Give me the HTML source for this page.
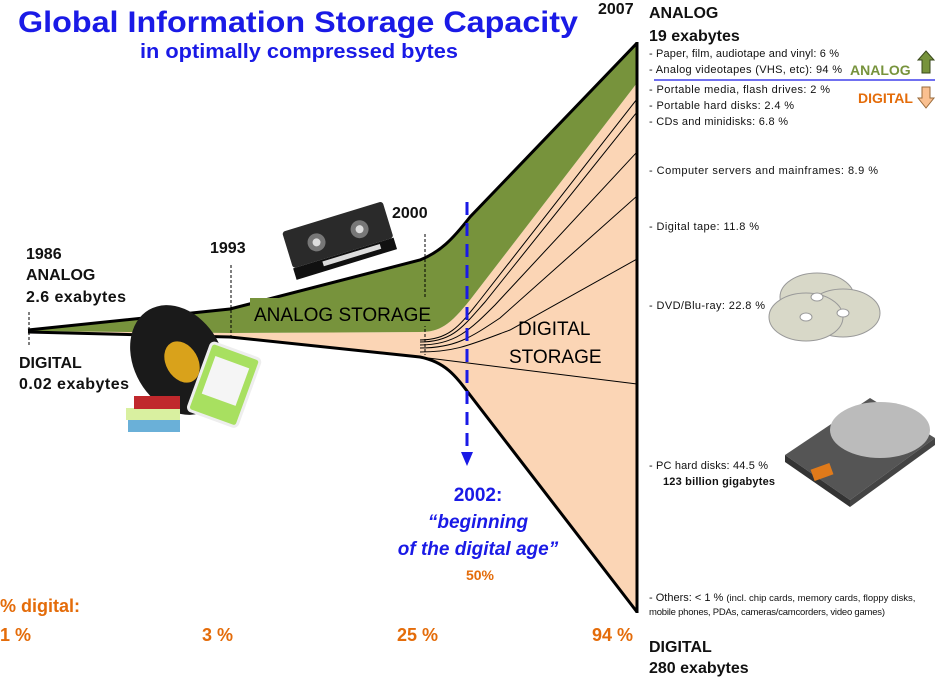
<!DOCTYPE html>
<html><head><meta charset="utf-8"><style>
html,body{margin:0;padding:0;background:#fff}
svg{display:block}
text{font-family:"Liberation Sans",sans-serif}
</style></head><body>
<svg width="941" height="679" viewBox="0 0 941 679" xmlns="http://www.w3.org/2000/svg">
<text x="18" y="32" font-size="30" font-weight="bold" fill="#1a1ae6" textLength="560" lengthAdjust="spacingAndGlyphs">Global Information Storage Capacity</text>
<text x="140" y="58" font-size="20" font-weight="bold" fill="#1a1ae6" textLength="318" lengthAdjust="spacingAndGlyphs">in optimally compressed bytes</text>

<path d="M28,331 L230,333 L420,332 C440,332 450,325 470,300 L637,83 L637,612 L470,395 C455,375 445,362 420,357 L230,337 Z" fill="#fbd5b5"/>
<path d="M28,330 L230,309 L420,260 C440,252 452,240 470,217 L637,43 L637,83 L470,300 C450,325 440,332 420,332 L230,333 L28,331 Z" fill="#77933c"/>
<g stroke="#000" stroke-width="1" fill="none">
<path d="M420,340 C450,340 460,325 480,300 L637,99"/>
<path d="M420,342 C452,342 462,328 485,302 L637,112"/>
<path d="M420,345 C455,345 470,330 495,305 L637,152"/>
<path d="M420,348 C455,348 470,338 500,318 L637,196"/>
<path d="M420,352 C455,352 470,345 510,330 L637,259"/>
<path d="M420,357 L637,384"/>
</g>
<path d="M28,330 L230,309 L420,260 C440,252 452,240 470,217 L637,43" stroke="#000" stroke-width="3" fill="none"/>
<path d="M28,332 L230,337 L420,357 C445,362 455,375 470,395 L637,612" stroke="#000" stroke-width="3" fill="none"/>
<line x1="637" y1="42" x2="637" y2="613" stroke="#000" stroke-width="3"/>

<g stroke="#000" stroke-width="1" stroke-dasharray="3,2">
<line x1="29" y1="312" x2="29" y2="345"/>
<line x1="231" y1="265" x2="231" y2="336"/>
<line x1="425" y1="234" x2="425" y2="355"/>
</g>
<line x1="467" y1="202" x2="467" y2="455" stroke="#1a1ae6" stroke-width="3" stroke-dasharray="13,8"/>
<polygon points="461,452 473,452 467,466" fill="#1a1ae6"/>

<g font-weight="bold" fill="#111">
<text x="26" y="259" font-size="16">1986</text>
<text x="26" y="280" font-size="16">ANALOG</text>
<text x="26" y="302" font-size="16" textLength="100">2.6 exabytes</text>
<text x="19" y="368" font-size="16">DIGITAL</text>
<text x="19" y="389" font-size="16" textLength="110">0.02 exabytes</text>
<text x="210" y="253" font-size="16">1993</text>
<text x="392" y="218" font-size="16">2000</text>
<text x="598" y="14" font-size="16">2007</text>
<text x="649" y="18" font-size="16">ANALOG</text>
<text x="649" y="41" font-size="16">19 exabytes</text>
<text x="649" y="652" font-size="16">DIGITAL</text>
<text x="649" y="673" font-size="16">280 exabytes</text>
</g>
<g fill="#000" font-size="19">
<rect x="250" y="298" width="186" height="28" fill="#77933c"/>
<text x="254" y="321">ANALOG STORAGE</text>
<text x="518" y="335">DIGITAL</text>
<text x="509" y="363">STORAGE</text>
</g>

<g font-size="11" fill="#111">
<text x="649" y="57" textLength="190">- Paper, film, audiotape and vinyl: 6 %</text>
<text x="649" y="73" textLength="193">- Analog videotapes (VHS, etc):  94 %</text>
<text x="649" y="93" textLength="181">- Portable media, flash drives: 2 %</text>
<text x="649" y="109" textLength="145">- Portable hard disks: 2.4 %</text>
<text x="649" y="125" textLength="139">- CDs and minidisks: 6.8 %</text>
<text x="649" y="174" textLength="229">- Computer  servers and mainframes: 8.9 %</text>
<text x="649" y="230" textLength="110">- Digital tape: 11.8 %</text>
<text x="649" y="309" textLength="116">- DVD/Blu-ray: 22.8 %</text>
<text x="649" y="469" textLength="119">- PC hard disks: 44.5 %</text>
<text x="663" y="485" font-weight="bold" textLength="112">123 billion  gigabytes</text>
<text x="649" y="601">- Others: &lt; 1 % <tspan font-size="9.5">(incl. chip cards, memory cards, floppy disks,</tspan></text>
<text x="649" y="615" font-size="9.5" textLength="236">mobile phones, PDAs, cameras/camcorders, video games)</text>
</g>
<line x1="654" y1="80" x2="935" y2="80" stroke="#1a1ae6" stroke-width="1.2"/>
<text x="850" y="75" font-size="14" font-weight="bold" fill="#77933c">ANALOG</text>
<text x="858" y="103" font-size="14" font-weight="bold" fill="#e46c0a">DIGITAL</text>
<polygon points="926,51 934,60 930,60 930,73 922,73 922,60 918,60" fill="#77933c" stroke="#3a4a1c"/>
<polygon points="922,87 930,87 930,98 934,98 926,108 918,98 922,98" fill="#fac090" stroke="#9a6a3a"/>

<g font-weight="bold" fill="#1a1ae6" font-size="19" text-anchor="middle">
<text x="478" y="501">2002:</text>
<text x="478" y="528" font-style="italic">“beginning</text>
<text x="478" y="555" font-style="italic">of the digital age”</text>
</g>
<text x="480" y="580" font-size="14" font-weight="bold" fill="#e46c0a" text-anchor="middle">50%</text>

<g font-weight="bold" fill="#e46c0a" font-size="18">
<text x="0" y="612">% digital:</text>
<text x="0" y="641">1 %</text>
<text x="202" y="641">3 %</text>
<text x="397" y="641">25 %</text>
<text x="592" y="641">94 %</text>
</g>

<g transform="translate(282,232) rotate(-17)">
<rect x="0" y="0" width="105" height="38" rx="3" fill="#2a2a2a"/>
<rect x="0" y="38" width="105" height="12" fill="#111"/>
<rect x="30" y="40" width="60" height="5" fill="#ddd"/>
<circle cx="30" cy="20" r="9" fill="#777"/><circle cx="30" cy="20" r="4" fill="#ddd"/>
<circle cx="75" cy="20" r="9" fill="#777"/><circle cx="75" cy="20" r="4" fill="#ddd"/>
</g>
<ellipse cx="178" cy="360" rx="44" ry="58" transform="rotate(-30 178 360)" fill="#1a1a1a"/>
<ellipse cx="182" cy="362" rx="16" ry="22" transform="rotate(-30 182 362)" fill="#d9a21b"/>
<g transform="translate(212,342) rotate(20)">
<rect x="0" y="0" width="52" height="72" rx="4" fill="#a8e060" stroke="#eee" stroke-width="3"/>
<rect x="8" y="12" width="36" height="40" fill="#f5f5f5"/>
</g>
<rect x="128" y="420" width="52" height="12" fill="#6ab0d8"/>
<rect x="126" y="408" width="54" height="12" fill="#d9f0a0"/>
<rect x="134" y="396" width="46" height="13" fill="#c0282c"/>
<g fill="#d8d8c8" stroke="#999">
<ellipse cx="817" cy="297" rx="37" ry="24"/>
<ellipse cx="843" cy="313" rx="37" ry="24"/>
<ellipse cx="806" cy="317" rx="37" ry="24"/>
</g>
<g fill="#fff" stroke="#999"><ellipse cx="817" cy="297" rx="6" ry="4"/><ellipse cx="843" cy="313" rx="6" ry="4"/><ellipse cx="806" cy="317" rx="6" ry="4"/></g>
<polygon points="785,455 870,398 935,438 850,500" fill="#555"/>
<ellipse cx="880" cy="430" rx="50" ry="28" fill="#bbb"/>
<polygon points="785,455 850,500 850,507 785,462" fill="#333"/>
<polygon points="850,500 935,438 935,445 850,507" fill="#444"/>
<rect x="812" y="466" width="20" height="12" fill="#e07a1a" transform="rotate(-20 822 472)"/>
</svg>
</body></html>
